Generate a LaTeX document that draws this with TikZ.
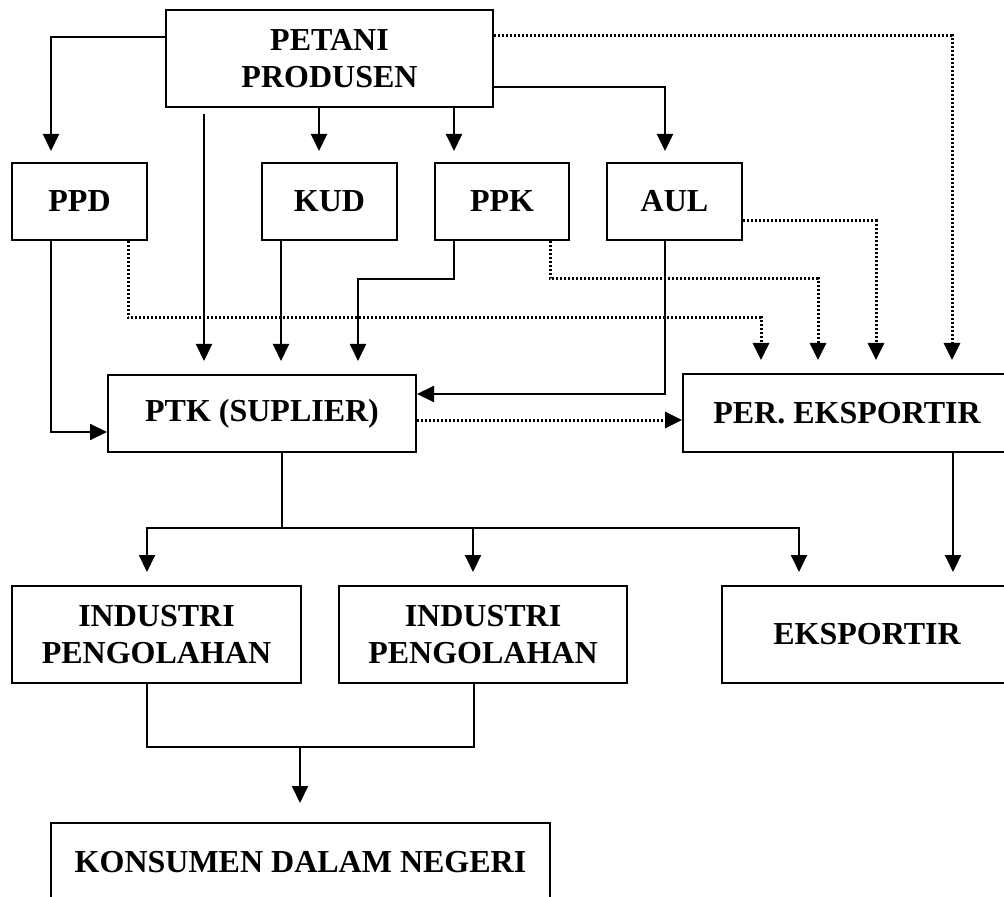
\documentclass[tikz,border=0pt]{standalone}
\usepackage{fontspec}
\setmainfont{Liberation Serif}
\usetikzlibrary{arrows.meta}

\begin{document}
\begin{tikzpicture}[x=0.5pt,y=-0.5pt]
  \tikzset{chainbox/.style={rectangle,draw=black,line width=1pt,inner sep=0pt,align=center,font=\bfseries\fontsize{16}{18.5}\selectfont}}
  \tikzset{flowedge/.style={draw=black,line width=1pt,-{Triangle[length=8.5pt,width=8pt]}}}
  \tikzset{plainedge/.style={draw=black,line width=1pt}}
  \tikzset{dotedge/.style={flowedge,line width=1.5pt,dash pattern=on 1pt off 1pt}}
  \useasboundingbox (0,0) rectangle (1004,897);
  \node[chainbox,minimum width=163.5pt,minimum height=48.5pt] (petani) at (329.5,58.5) {PETANI\\PRODUSEN};
  \node[chainbox,minimum width=67.5pt,minimum height=38.5pt] (ppd) at (79.5,201.5) {PPD};
  \node[chainbox,minimum width=67.5pt,minimum height=38.5pt] (kud) at (329.5,201.5) {KUD};
  \node[chainbox,minimum width=67pt,minimum height=38.5pt] (ppk) at (502,201.5) {PPK};
  \node[chainbox,minimum width=67.5pt,minimum height=38.5pt] (aul) at (674.5,201.5) {AUL};
  \node[chainbox,minimum width=154pt,minimum height=38.5pt] (ptk) at (262,413.5) {PTK (SUPLIER)};
  \node[chainbox,minimum width=164pt,minimum height=39pt] (per) at (847,413) {PER. EKSPORTIR};
  \node[chainbox,minimum width=144.5pt,minimum height=48.5pt] (ind1) at (156.5,634.5) {INDUSTRI\\PENGOLAHAN};
  \node[chainbox,minimum width=144pt,minimum height=48.5pt] (ind2) at (483,634.5) {INDUSTRI\\PENGOLAHAN};
  \node[chainbox,minimum width=145pt,minimum height=48.5pt] (eksp) at (867,634.5) {EKSPORTIR};
  \node[chainbox,minimum width=249.5pt,minimum height=39pt] (kons) at (300.5,862) {KONSUMEN DALAM NEGERI};
  \coordinate (split) at (282,528);
  \coordinate (merge) at (300,747);
  % from the farmers
  \draw[flowedge,shorten >=5.5pt] (petani.west |- 0,37) -| (ppd.north -| 51,0);
  \draw[flowedge,shorten <=3pt,shorten >=6.5pt] (petani.south -| 204,0) -- (ptk.north -| 204,0);
  \draw[flowedge,shorten >=5.5pt] (petani.south -| 319,0) -- (kud.north -| 319,0);
  \draw[flowedge,shorten >=5.5pt] (petani.south -| 454,0) -- (ppk.north -| 454,0);
  \draw[flowedge,shorten >=5.5pt] (petani.east |- 0,87) -| (aul.north -| 665,0);
  \draw[dotedge,shorten >=6.5pt] (petani.east |- 0,36) -| (per.north -| 952,0);
  % middlemen
  \draw[flowedge] (ppd.south -| 51,0) |- (ptk.west |- 0,432);
  \draw[dotedge,shorten >=6.5pt] (ppd.south -| 128,0) -- (128,318) -| (per.north -| 761,0);
  \draw[flowedge,shorten >=6.5pt] (kud.south -| 281,0) -- (ptk.north -| 281,0);
  \draw[flowedge,shorten >=6.5pt] (ppk.south -| 454,0) -- (454,279) -| (ptk.north -| 358,0);
  \draw[dotedge,shorten >=6.5pt] (ppk.south -| 550,0) -- (550,279) -| (per.north -| 818,0);
  \draw[dotedge,shorten >=6.5pt] (aul.east |- 0,221) -| (per.north -| 876,0);
  \draw[flowedge] (aul.south -| 665,0) |- (ptk.east |- 0,394);
  \draw[dotedge] (ptk.east |- 0,420) -- (per.west |- 0,420);
  % to industry and export
  \draw[plainedge] (ptk.south -| split) -- (split);
  \draw[flowedge,shorten >=6.5pt] (split) -| (ind1.north -| 147,0);
  \draw[flowedge,shorten >=6.5pt] (split) -| (ind2.north -| 473,0);
  \draw[flowedge,shorten >=6.5pt] (split) -| (eksp.north -| 799,0);
  \draw[flowedge,shorten >=6.5pt] (per.south -| 953,0) -- (eksp.north -| 953,0);
  \draw[plainedge] (ind1.south -| 147,0) |- (merge) -| (ind2.south -| 474,0);
  \draw[flowedge,shorten >=9.5pt] (merge) -- (kons.north -| merge);
\end{tikzpicture}
\end{document}
